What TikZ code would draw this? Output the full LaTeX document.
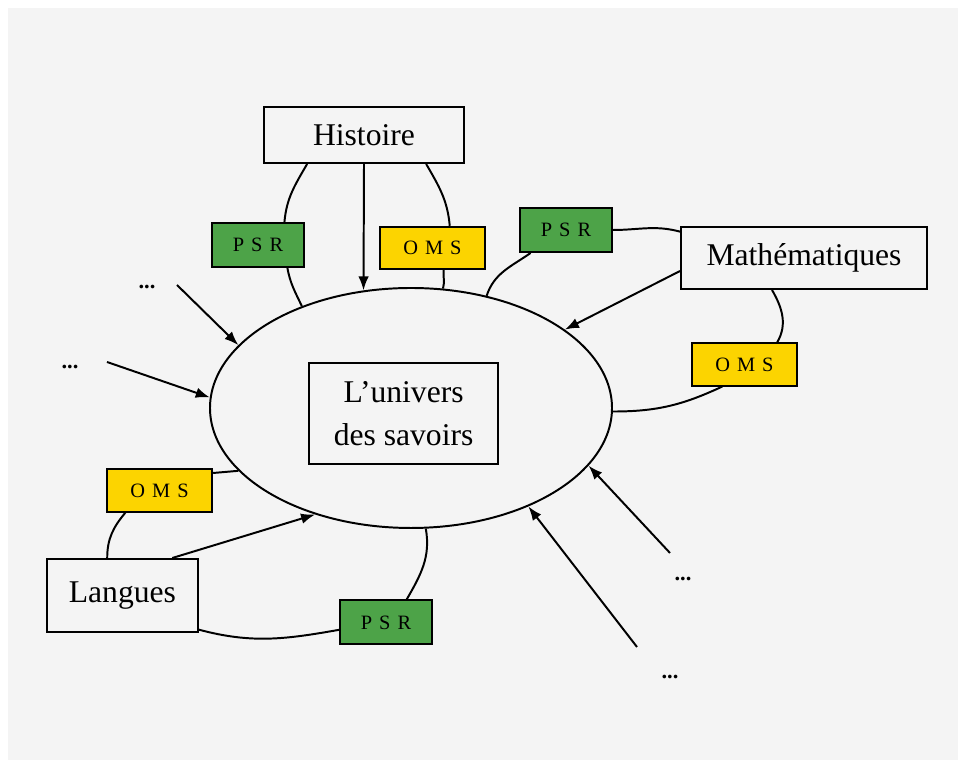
\documentclass[tikz,border=0pt]{standalone}
\usepackage{fontspec}
\setmainfont{Liberation Serif}
\usetikzlibrary{shapes.geometric,arrows.meta}

\definecolor{vertpsr}{RGB}{77,163,72}
\definecolor{jauneoms}{RGB}{252,212,0}
\definecolor{fond}{RGB}{244,244,244}
\newcommand{\sigle}[3]{#1\kern5pt#2\kern5pt#3}

\begin{document}
\begin{tikzpicture}
	\tikzset{boite/.style={rectangle, draw=black, line width=1.4pt, text centered, inner sep=0pt, font=\fontsize{22.5}{30}\selectfont},
	psr/.style={rectangle, draw=black, fill=vertpsr, line width=1.4pt, minimum width=2.3cm, minimum height=1.1cm, inner sep=0pt, font=\fontsize{14.5}{16}\selectfont},
	oms/.style={rectangle, draw=black, fill=jauneoms, line width=1.4pt, minimum width=2.63cm, minimum height=1.06cm, inner sep=0pt, font=\fontsize{14.5}{16}\selectfont},
	points/.style={font=\fontsize{16}{18}\selectfont\bfseries},
	lien/.style={line width=1.4pt},
	fleche/.style={line width=1.4pt, -{Latex[length=10pt,width=7.5pt]}}};

	\fill[white] (0,0) rectangle (23.95,19);
	\fill[fond] (0.2,0) rectangle (23.95,18.8);
	\useasboundingbox (0,0) rectangle (23.95,19);

	\node[ellipse, draw=black, line width=1.4pt, minimum width=10.05cm, minimum height=6cm, inner sep=0pt] (univers) at (10.275, 8.8) {};
	\node[boite, minimum width=4.72cm, minimum height=2.52cm, align=center] (savoirs) at (10.09, 8.66) {L'univers\\des savoirs};

	\node[boite, minimum width=5cm, minimum height=1.4cm] (histoire) at (9.1, 15.625) {Histoire};
	\node[boite, minimum width=6.15cm, minimum height=1.55cm] (maths) at (20.1, 12.55) {Mathématiques};
	\node[boite, minimum width=3.78cm, minimum height=1.83cm] (langues) at (3.06, 4.11) {Langues};

	\node[psr] (psrh) at (6.45, 12.875) {\sigle PSR};
	\node[oms] (omsh) at (10.81, 12.8) {\sigle OMS};
	\node[psr] (psrm) at (14.15, 13.25) {\sigle PSR};
	\node[oms] (omsm) at (18.61, 9.89) {\sigle OMS};
	\node[oms] (omsl) at (3.99, 6.74) {\sigle OMS};
	\node[psr] (psrl) at (9.65, 3.44) {\sigle PSR};

	\node[points] (p1) at (3.675, 11.825) {...};
	\node[points] (p2) at (1.75, 9.825) {...};
	\node[points] (p3) at (17.075, 4.525) {...};
	\node[points] (p4) at (16.75, 2.075) {...};

	\coordinate (d1) at (4.425, 11.875);
	\coordinate (d2) at (2.675, 9.95);
	\coordinate (d3) at (16.75, 5.175);
	\coordinate (d4) at (15.925, 2.825);

	\draw[lien] (histoire.207) to[out=-120, in=85] (psrh.41);
	\draw[lien] (psrh.-38) to[out=-80, in=115] (univers.137);
	\draw[lien] (histoire.-25) to[out=-60, in=95] (omsh.52);
	\draw[lien] (omsh.-63) to[out=-95, in=75] (univers.75);
	\draw[fleche] (histoire.south) -- (univers.112);

	\draw[lien] (psrm.east) to[out=0, in=165] (maths.168);
	\draw[lien] (psrm.213) to[out=-145, in=72] (univers.56);
	\draw[fleche] (maths.186) -- (univers.27);
	\draw[lien] (maths.225) to[out=-60, in=60] (omsm.34);
	\draw[lien] (omsm.225) to[out=-155, in=0] (univers.-1);

	\draw[lien] (omsl.18) -- (univers.200);
	\draw[lien] (omsl.213) to[out=-130, in=90] (langues.112);
	\draw[fleche] (langues.37) -- (univers.228);
	\draw[lien] (langues.-24) to[out=-15, in=190] (psrl.189);
	\draw[lien] (psrl.48) to[out=60, in=-80] (univers.-83);

	\foreach \d/\a in {d1/160, d2/177, d3/342, d4/320}{
		\draw[fleche] (\d) -- (univers.\a);
	}
\end{tikzpicture}
\end{document}
